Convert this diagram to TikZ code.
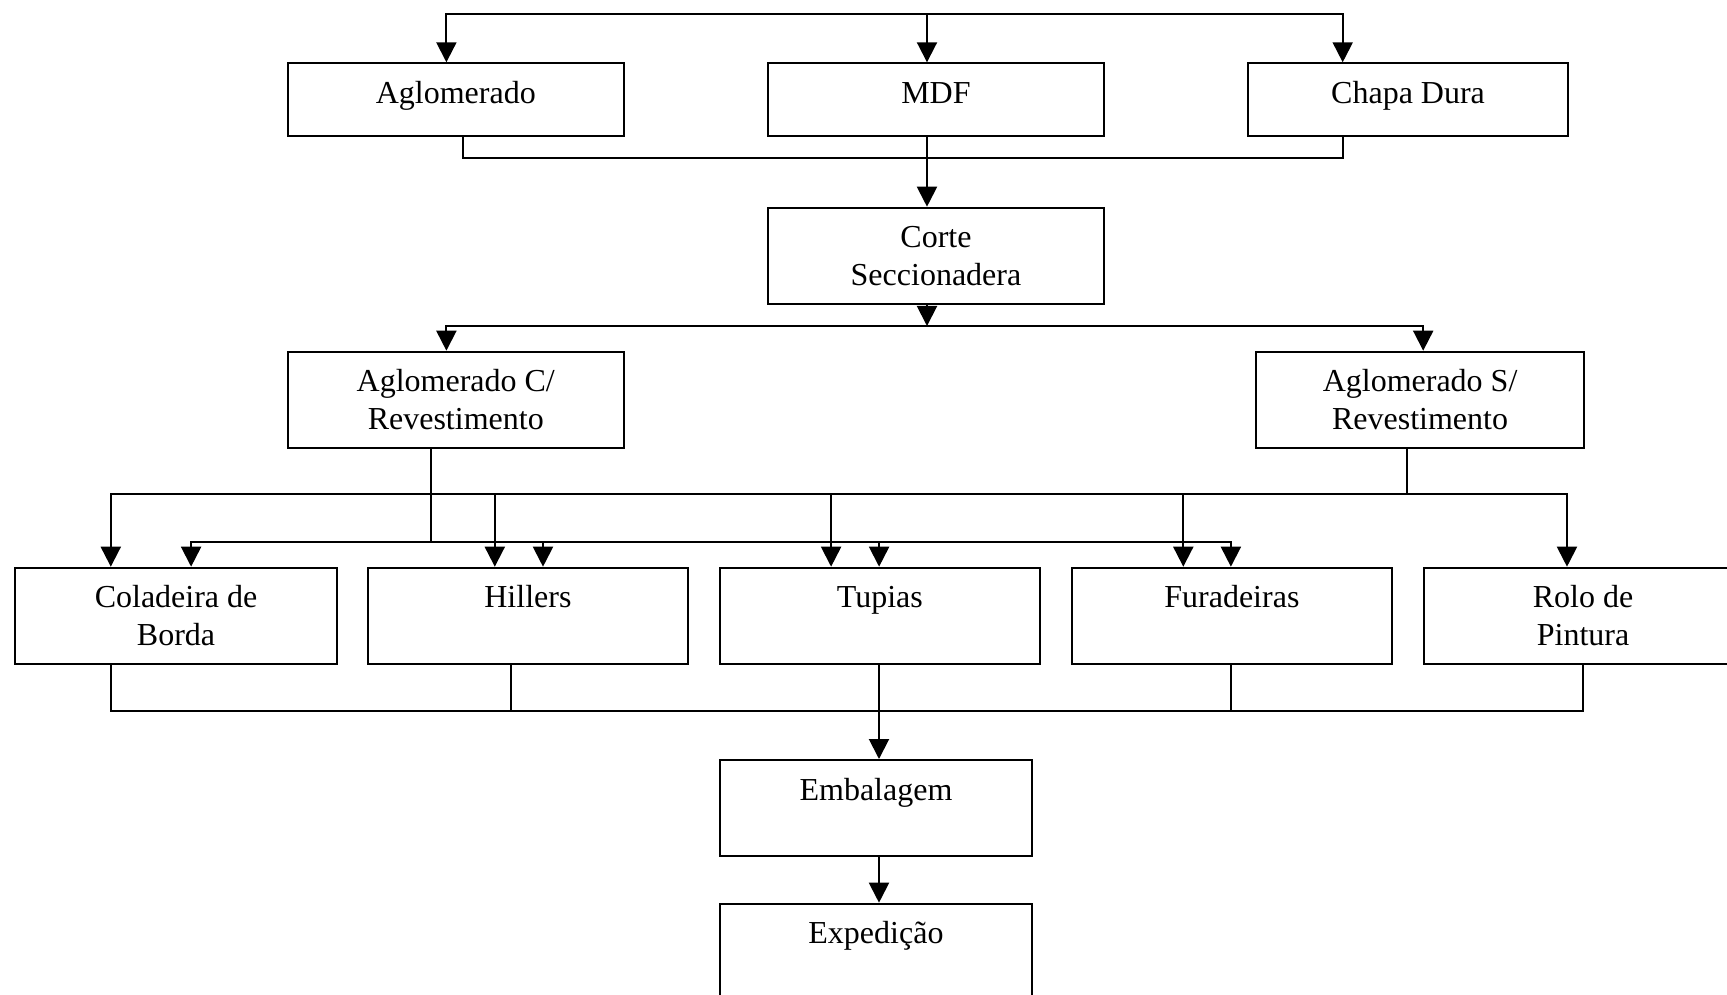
\documentclass[tikz,border=0pt]{standalone}
\usepackage{fontspec}
\setmainfont{Liberation Serif}
\usetikzlibrary{arrows.meta}
\begin{document}
\begin{tikzpicture}[x=0.375pt, y=-0.375pt, line width=0.75pt,
  box/.style={draw, rectangle, inner sep=0pt, anchor=north west},
  txt/.style={anchor=north, inner sep=0pt, align=center, font=\fontsize{12pt}{14pt}\selectfont},
  tip/.tip={Triangle[length=7.5pt,width=7.5pt]},
  arr/.style={-tip},
  arr2/.style={tip-tip}]
\useasboundingbox (0,0) rectangle (1727,995);

% ---------- boxes (x,y of top-left corner; size in pt) ----------
\node[box, minimum width=126.2pt, minimum height=27.3pt] (agl)   at (286.5,62.3) {};
\node[box, minimum width=126.2pt, minimum height=27.3pt] (mdf)   at (766.7,62.3) {};
\node[box, minimum width=120.2pt, minimum height=27.3pt] (chapa) at (1246.8,62.3) {};
\node[box, minimum width=126.2pt, minimum height=36pt]   (corte) at (766.7,206.7) {};
\node[box, minimum width=126.2pt, minimum height=36.1pt] (aglc)  at (286.5,350.7) {};
\node[box, minimum width=123.2pt, minimum height=36.1pt] (agls)  at (1254.8,350.7) {};
\node[box, minimum width=120.5pt, minimum height=36pt]   (cola)  at (14.4,566.7) {};
\node[box, minimum width=120.1pt, minimum height=36pt]   (hill)  at (366.8,566.7) {};
\node[box, minimum width=120.2pt, minimum height=36pt]   (tup)   at (718.6,566.7) {};
\node[box, minimum width=120pt,   minimum height=36pt]   (fur)   at (1070.9,566.7) {};
\node[box, minimum width=119.5pt, minimum height=36pt]   (rolo)  at (1422.7,566.7) {};
\node[box, minimum width=117.2pt, minimum height=35.9pt] (emb)   at (718.7,759) {};
\node[box, minimum width=117.2pt, minimum height=40pt]   (exp)   at (718.7,902.7) {};

% ---------- texts ----------
\node[txt] (aglT)   at ([yshift=-5.2pt]agl.north)   {\strut Aglomerado};
\node[txt] (mdfT)   at ([yshift=-5.2pt]mdf.north)   {\strut MDF};
\node[txt] (chapaT) at ([yshift=-5.2pt]chapa.north) {\strut Chapa Dura};
\node[txt] (corteT) at ([yshift=-5.2pt]corte.north) {\strut Corte\\Seccionadera};
\node[txt] (aglcT)  at ([yshift=-5.2pt]aglc.north)  {\strut Aglomerado C/\\Revestimento};
\node[txt] (aglsT)  at ([yshift=-5.2pt]agls.north)  {\strut Aglomerado S/\\Revestimento};
\node[txt] (colaT)  at ([yshift=-5.2pt]cola.north)  {\strut Coladeira de\\Borda};
\node[txt] (hillT)  at ([yshift=-5.2pt]hill.north)  {\strut Hillers};
\node[txt] (tupT)   at ([yshift=-5.2pt]tup.north)   {\strut Tupias};
\node[txt] (furT)   at ([yshift=-5.2pt]fur.north)   {\strut Furadeiras};
\node[txt] (roloT)  at ([yshift=-5.2pt]rolo.north)  {\strut Rolo de\\Pintura};
\node[txt] (embT)   at ([yshift=-5.2pt]emb.north)   {\strut Embalagem};
\node[txt] (expT)   at ([yshift=-5.2pt]exp.north)   {\strut Expedição};

% ---------- junction coordinates ----------
\coordinate (tl) at (446.4,14);
\coordinate (tm) at (927,14);
\coordinate (tr) at (1342.7,14);
\coordinate (a1) at (463,158.3);
\coordinate (c1) at (1342.7,158.3);
\coordinate (m2) at (927,326);
\coordinate (l2) at (446.4,326);
\coordinate (r2) at (1423.2,326);
\coordinate (c3) at (430.5,542.3);
\coordinate (h3l) at (191.1,542.3);
\coordinate (h3h) at (543,542.3);
\coordinate (h3t) at (879.1,542.3);
\coordinate (h3r) at (1230.9,542.3);
\coordinate (s3) at (1407,494.3);
\coordinate (s3l) at (110.8,494.3);
\coordinate (s3h) at (494.8,494.3);
\coordinate (s3t) at (831.1,494.3);
\coordinate (s3f) at (1183.3,494.3);
\coordinate (s3r) at (1567,494.3);
\coordinate (bl) at (110.8,710.7);
\coordinate (bh) at (510.9,710.7);
\coordinate (bt) at (879,710.7);
\coordinate (bf) at (1230.9,710.7);
\coordinate (br) at (1582.7,710.7);

% ---------- connectors ----------
% top distribution
\draw[arr2] (tl |- agl.north) -- (tl) -- (tr) -- (tr |- chapa.north);
\draw[arr] (tm) -- (tm |- mdf.north);
% row 1 to Corte
\draw (a1 |- agl.south) -- (a1) -- (c1) -- (c1 |- chapa.south);
\draw[arr] (tm |- mdf.south) -- (tm |- corte.north);
% Corte to row 3
\draw[arr] (m2 |- corte.south) -- (m2);
\draw[arr2] (l2 |- aglc.north) -- (l2) -- (r2) -- (r2 |- agls.north);
% Aglomerado C/ to row 4
\draw (c3 |- aglc.south) -- (c3);
\draw[arr2] (h3l |- cola.north) -- (h3l) -- (h3r) -- (h3r |- fur.north);
\draw[arr] (h3h) -- (h3h |- hill.north);
\draw[arr] (h3t) -- (h3t |- tup.north);
% Aglomerado S/ to row 4
\draw (s3 |- agls.south) -- (s3);
\draw[arr2] (s3l |- cola.north) -- (s3l) -- (s3r) -- (s3r |- rolo.north);
\draw[arr] (s3h) -- (s3h |- hill.north);
\draw[arr] (s3t) -- (s3t |- tup.north);
\draw[arr] (s3f) -- (s3f |- fur.north);
% row 4 to Embalagem
\draw (bl |- cola.south) -- (bl) -- (br) -- (br |- rolo.south);
\draw (bh |- hill.south) -- (bh);
\draw (bf |- fur.south) -- (bf);
\draw[arr] (bt |- tup.south) -- (bt |- emb.north);
% Embalagem to Expedicao
\draw[arr] (bt |- emb.south) -- (bt |- exp.north);
\end{tikzpicture}
\end{document}
